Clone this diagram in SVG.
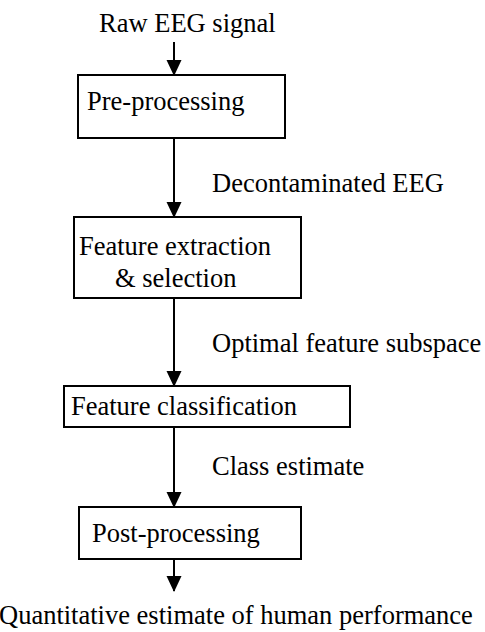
<svg xmlns="http://www.w3.org/2000/svg" width="485" height="632" viewBox="0 0 485 632">
<defs>
<marker id="ah" markerWidth="16" markerHeight="16" viewBox="0 0 16 16" refX="15" refY="8" orient="auto" markerUnits="userSpaceOnUse">
<path d="M0,0.5 L16,8 L0,15.5 z" fill="#000"/>
</marker>
<style>
.box{fill:#fff;stroke:#000;stroke-width:2}
.t{font-family:"Liberation Serif",Tinos,"Times New Roman",Times,"DejaVu Serif",serif;font-size:26.5px;fill:#000}
.c{text-anchor:middle}
.ln{stroke:#000;stroke-width:2;fill:none;marker-end:url(#ah)}
</style>
</defs>
<rect width="485" height="632" fill="#fff"/>
<g id="connectors">
<line class="ln" x1="174" y1="42" x2="174" y2="75"/>
<line class="ln" x1="174" y1="138" x2="174" y2="217"/>
<line class="ln" x1="174" y1="298" x2="174" y2="386"/>
<line class="ln" x1="174" y1="427" x2="174" y2="507"/>
<line class="ln" x1="174" y1="559" x2="174" y2="591"/>
</g>
<g id="input"><text class="t" x="99" y="32" font-family="Liberation Serif, serif">Raw EEG signal</text></g>
<g id="preprocessing">
<rect class="box" x="78" y="75" width="207" height="63"/>
<text class="t" x="87" y="110" font-family="Liberation Serif, serif">Pre-processing</text>
</g>
<g id="label-decontaminated"><text class="t" x="212" y="192" font-family="Liberation Serif, serif">Decontaminated EEG</text></g>
<g id="feature-extraction">
<rect class="box" x="74" y="217" width="227" height="81"/>
<text class="t" x="79" y="255" font-family="Liberation Serif, serif">Feature extraction</text>
<text class="t" x="115" y="287" font-family="Liberation Serif, serif">&amp; selection</text>
</g>
<g id="label-optimal"><text class="t" x="212" y="352" font-family="Liberation Serif, serif">Optimal feature subspace</text></g>
<g id="feature-classification">
<rect class="box" x="64" y="386" width="286" height="41"/>
<text class="t" x="71" y="415" font-family="Liberation Serif, serif">Feature classification</text>
</g>
<g id="label-class"><text class="t" x="212" y="475" font-family="Liberation Serif, serif">Class estimate</text></g>
<g id="postprocessing">
<rect class="box" x="79" y="507" width="222" height="52"/>
<text class="t" x="92" y="542" font-family="Liberation Serif, serif">Post-processing</text>
</g>
<g id="output"><text class="t" x="-1" y="624" font-family="Liberation Serif, serif">Quantitative estimate of human performance</text></g>
</svg>
